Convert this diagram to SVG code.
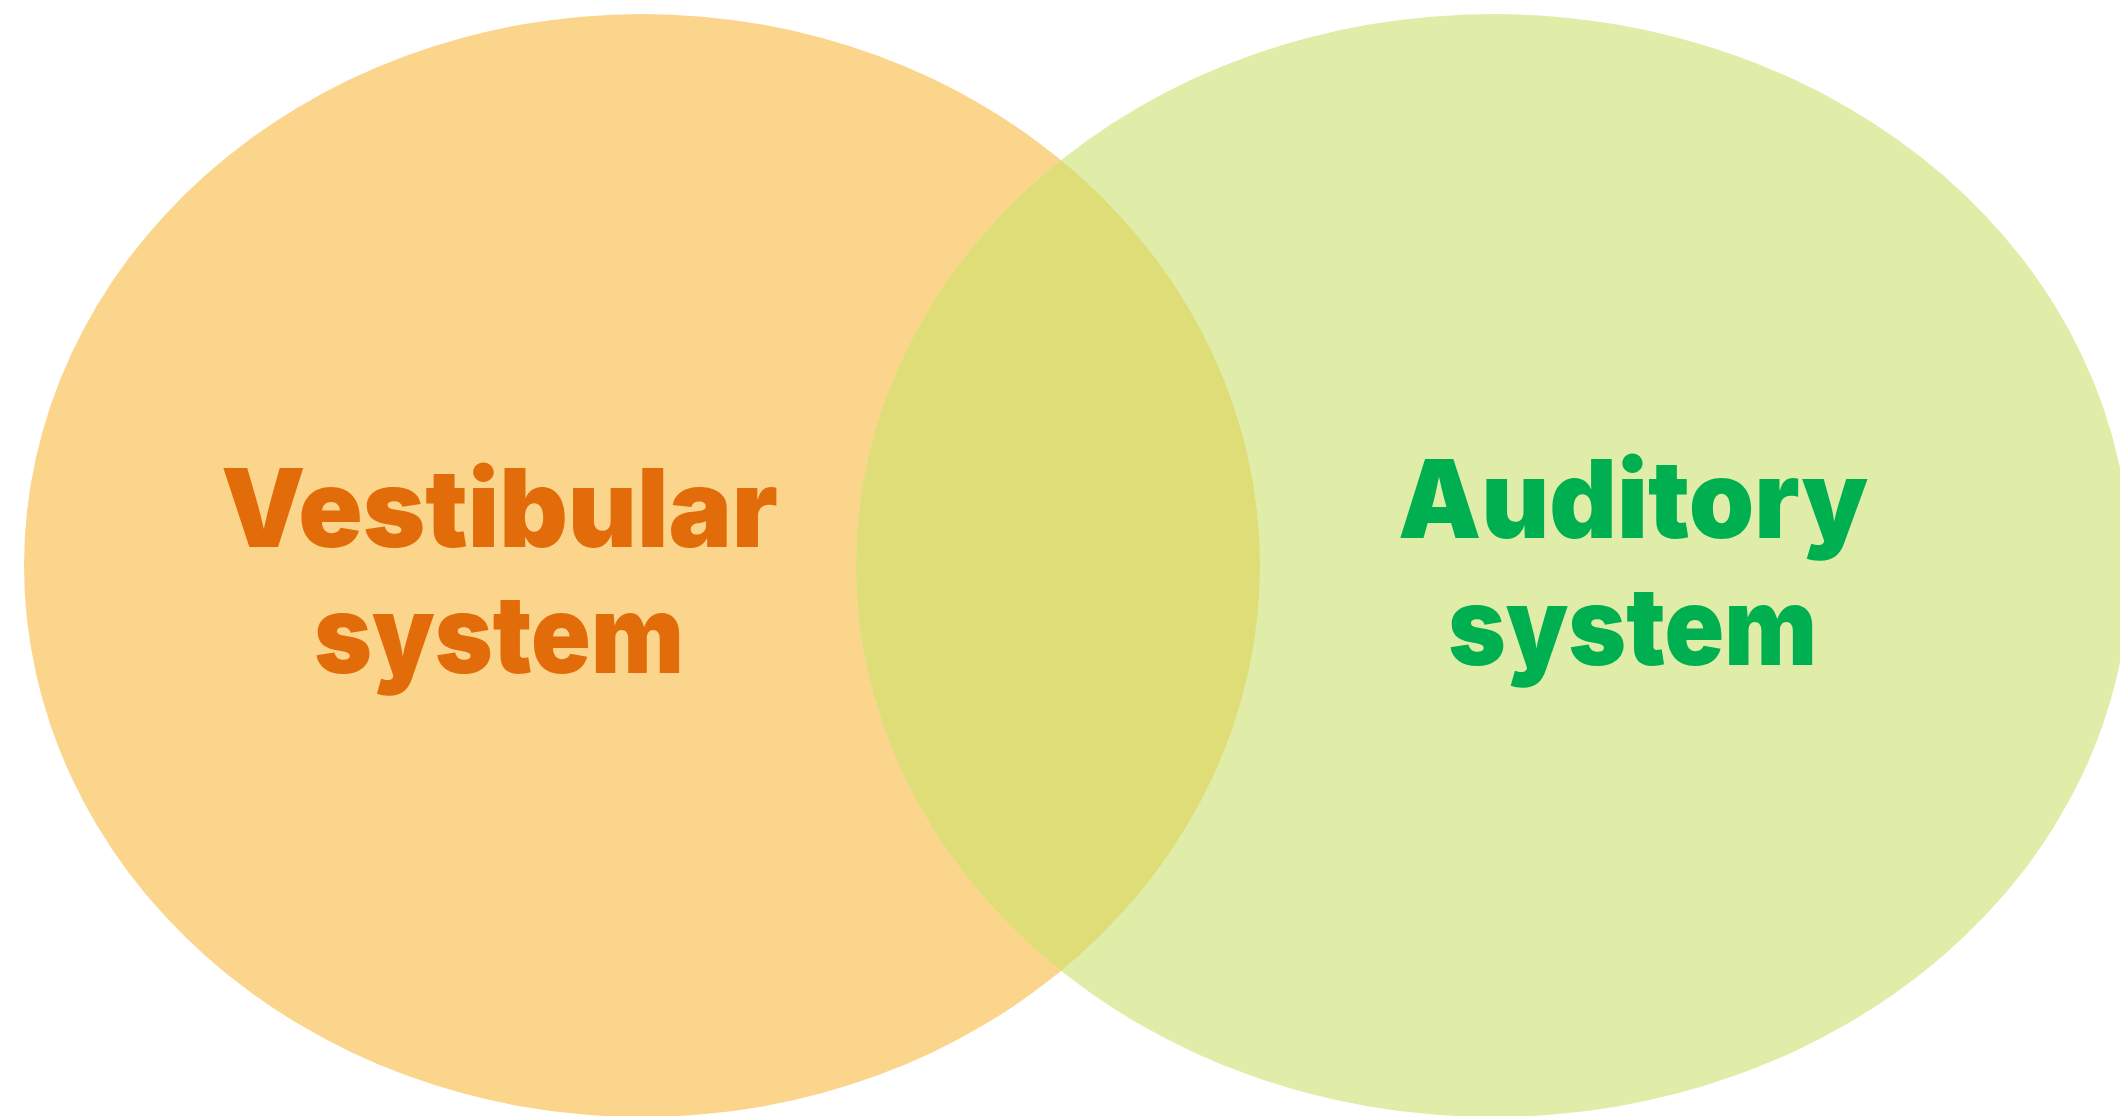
<svg xmlns="http://www.w3.org/2000/svg" width="2120" height="1116" viewBox="0 0 2120 1116">
  <style>
    .label { font-family: Inter, "Noto Sans", "Liberation Sans", sans-serif; font-weight: 900; font-size: 108px; text-anchor: middle; }
    .vest { fill: #E36C0A; }
    .aud { fill: #00B050; }
  </style>
  <defs>
    <ellipse id="shape-vest" cx="642" cy="565.5" rx="618" ry="551.5"/>
    <ellipse id="shape-aud" cx="1493" cy="565.5" rx="637" ry="551.5"/>
    <clipPath id="clip-aud">
      <use href="#shape-aud"/>
    </clipPath>
  </defs>
  <rect width="2120" height="1116" fill="#FFFFFF"/>
  <g id="vestibular">
    <use href="#shape-vest" fill="#FAD58B"/>
  </g>
  <g id="auditory">
    <use href="#shape-aud" fill="#E0EDA8"/>
  </g>
  <!-- shared region of the two sets -->
  <g id="overlap">
    <use href="#shape-vest" fill="#DEDD78" clip-path="url(#clip-aud)"/>
  </g>
  <g id="labels">
    <text class="label vest" x="499.5" y="547" textLength="557" lengthAdjust="spacingAndGlyphs">Vestibular</text>
    <text class="label vest" x="499" y="673" textLength="370" lengthAdjust="spacingAndGlyphs">system</text>
    <text class="label aud" x="1633" y="538" textLength="470" lengthAdjust="spacingAndGlyphs">Auditory</text>
    <text class="label aud" x="1632.5" y="665" textLength="369" lengthAdjust="spacingAndGlyphs">system</text>
  </g>
</svg>
